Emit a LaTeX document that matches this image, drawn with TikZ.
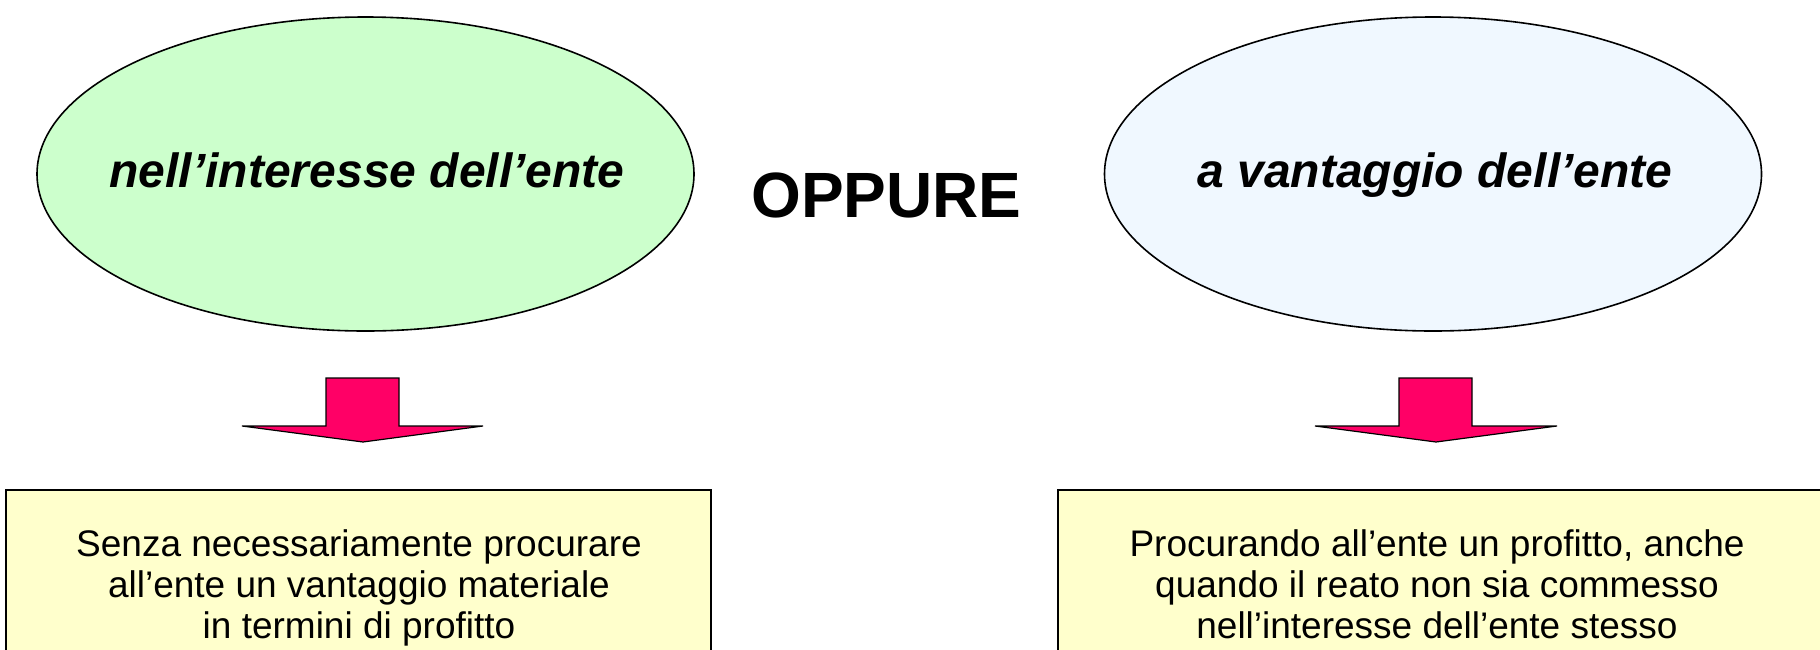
\documentclass[tikz,border=0pt]{standalone}
\usepackage{fontspec}
\setmainfont{Liberation Sans}
\usetikzlibrary{shapes.geometric}
\definecolor{greenfill}{HTML}{CCFFCC}
\definecolor{bluefill}{HTML}{F0F8FF}
\definecolor{boxfill}{HTML}{FFFFCC}
\definecolor{arrowfill}{HTML}{FF0066}
\tikzset{
  oval/.style={ellipse, draw=black, line width=0.8pt, minimum width=328.5pt, minimum height=157pt, inner sep=0pt},
  ovaltext/.style={font=\fontsize{24}{28}\selectfont\bfseries\itshape, anchor=base, inner sep=0pt},
  bigword/.style={font=\fontsize{32}{36}\selectfont\bfseries, anchor=base, inner sep=0pt},
  notebox/.style={draw=black, line width=1pt, fill=boxfill},
  notetext/.style={font=\fontsize{18.5}{20.5}\selectfont, align=center, anchor=north, inner sep=0pt},
  downarrow/.style={draw=black, line width=0.6pt, fill=arrowfill, line join=miter},
}
\begin{document}
\begin{tikzpicture}[x=0.5pt,y=-0.5pt]
\useasboundingbox (0,0) rectangle (1820,649);
\clip (0,0) rectangle (1820,649);
% ellipses
\node[oval, fill=greenfill] (eL) at (365.5,174) {};
\node[oval, fill=bluefill] (eR) at (1433,174) {};
\node[ovaltext] (tL) at (367,187) {nell’interesse dell’ente};
\node[ovaltext] (tR) at (1435,187) {a vantaggio dell’ente};
\node[bigword] (or) at (886.5,217) {OPPURE};
% arrows
\draw[downarrow] (326,378) -- (399,378) -- (399,426) -- (483,426) -- (363,442) -- (242,426) -- (326,426) -- cycle;
\draw[downarrow] (1399,378) -- (1472,378) -- (1472,426) -- (1557,426) -- (1436,442) -- (1315,426) -- (1399,426) -- cycle;
% boxes
\draw[notebox] (6,490) rectangle (711,720);
\draw[notebox] (1058,490) rectangle (1840,720);
\node[notetext] (bL) at (359,529) {Senza necessariamente procurare\\all’ente un vantaggio materiale\\in termini di profitto};
\node[notetext] (bR) at (1437,529) {Procurando all’ente un profitto, anche\\quando il reato non sia commesso\\nell’interesse dell’ente stesso};
\end{tikzpicture}
\end{document}
